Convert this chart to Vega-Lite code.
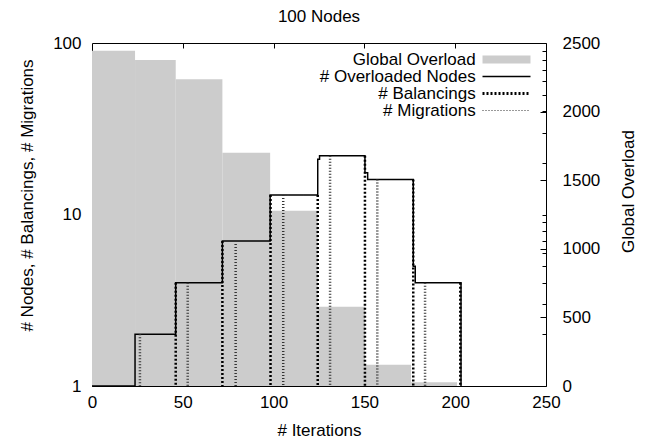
{
  "$schema": "https://vega.github.io/schema/vega-lite/v6.json",
  "width": 454,
  "height": 343,
  "autosize": {"type": "none"},
  "padding": {"left": 92, "top": 43, "right": 100, "bottom": 57},
  "background": "white",
  "title": {"text": "100 Nodes", "font": "Liberation Sans", "fontSize": 17, "fontWeight": "normal", "color": "black", "offset": 8},
  "datasets": {
    "overload": [
      {"start": 0, "end": 23.7, "overload": 2444},
      {"start": 23.7, "end": 46.1, "overload": 2376},
      {"start": 46.1, "end": 71.8, "overload": 2235},
      {"start": 71.8, "end": 98.1, "overload": 1700},
      {"start": 98.1, "end": 124.3, "overload": 1278},
      {"start": 124.3, "end": 150.3, "overload": 578},
      {"start": 150.3, "end": 175.7, "overload": 155},
      {"start": 175.7, "end": 201, "overload": 27}
    ],
    "nodes": [
      {"iteration": 0, "value": 1, "series": "# Overloaded Nodes"},
      {"iteration": 23.7, "value": 2, "series": "# Overloaded Nodes"},
      {"iteration": 46.1, "value": 4, "series": "# Overloaded Nodes"},
      {"iteration": 71.8, "value": 7, "series": "# Overloaded Nodes"},
      {"iteration": 98.1, "value": 13, "series": "# Overloaded Nodes"},
      {"iteration": 124.3, "value": 21, "series": "# Overloaded Nodes"},
      {"iteration": 125.3, "value": 22, "series": "# Overloaded Nodes"},
      {"iteration": 150.3, "value": 17.5, "series": "# Overloaded Nodes"},
      {"iteration": 151.8, "value": 16, "series": "# Overloaded Nodes"},
      {"iteration": 176.9, "value": 5, "series": "# Overloaded Nodes"},
      {"iteration": 178, "value": 4, "series": "# Overloaded Nodes"},
      {"iteration": 203.2, "value": 1, "series": "# Overloaded Nodes"}
    ],
    "balancings": [
      {"iteration": 46.1, "value": 4, "series": "# Balancings"},
      {"iteration": 71.8, "value": 7, "series": "# Balancings"},
      {"iteration": 98.3, "value": 13, "series": "# Balancings"},
      {"iteration": 124.3, "value": 13, "series": "# Balancings"},
      {"iteration": 150.3, "value": 22, "series": "# Balancings"},
      {"iteration": 176.9, "value": 16, "series": "# Balancings"},
      {"iteration": 202.8, "value": 4, "series": "# Balancings"}
    ],
    "migrations": [
      {"iteration": 26.4, "value": 2, "series": "# Migrations"},
      {"iteration": 52.7, "value": 4, "series": "# Migrations"},
      {"iteration": 79.1, "value": 7, "series": "# Migrations"},
      {"iteration": 105.3, "value": 13, "series": "# Migrations"},
      {"iteration": 131.1, "value": 22, "series": "# Migrations"},
      {"iteration": 157.1, "value": 16, "series": "# Migrations"},
      {"iteration": 183.4, "value": 4, "series": "# Migrations"}
    ]
  },
  "config": {
    "view": {"stroke": null},
    "font": "Liberation Sans",
    "axis": {
      "labelFont": "Liberation Sans", "labelFontSize": 17, "labelColor": "black",
      "titleFont": "Liberation Sans", "titleFontSize": 17, "titleFontWeight": "normal", "titleColor": "black",
      "grid": false, "domainColor": "black", "domainWidth": 1, "tickColor": "black", "tickWidth": 1,
      "labelFlush": false, "labelOverlap": false, "zindex": 1
    },
    "legend": {
      "orient": "none", "legendX": 406, "legendY": 8, "padding": 0,
      "symbolType": "M-6,0H6", "symbolSize": 64,
      "labelAlign": "right", "labelOffset": -39.3, "labelBaseline": "middle",
      "labelFont": "Liberation Sans", "labelFontSize": 17, "labelColor": "black",
      "rowPadding": -2.3
    }
  },
  "resolve": {"scale": {"y": "independent"}, "axis": {"x": "independent", "y": "independent"}},
  "layer": [
    {
      "data": {"name": "overload"},
      "mark": {"type": "rect", "color": "#cccccc"},
      "encoding": {
        "x": {"field": "start", "type": "quantitative", "scale": {"domain": [0, 250], "nice": false, "zero": true},
          "axis": {"orient": "bottom", "values": [0, 50, 100, 150, 200, 250], "ticks": false, "labelPadding": 8, "title": "# Iterations", "titlePadding": 12, "domain": true}},
        "x2": {"field": "end"},
        "y": {"field": "overload", "type": "quantitative", "scale": {"domain": [0, 2500], "nice": false},
          "axis": {"orient": "right", "values": [0, 500, 1000, 1500, 2000, 2500], "format": "d", "tickSize": -6, "labelPadding": 22, "domain": true,
            "title": "Global Overload", "titleAngle": 270, "titleX": 82, "titleY": 148, "titleBaseline": "middle", "titleAlign": "center"}},
        "y2": {"datum": 0}
      }
    },
    {
      "layer": [
        {
          "data": {"name": "nodes"},
          "mark": {"type": "line", "interpolate": "step-after", "strokeCap": "butt"},
          "encoding": {
            "x": {"field": "iteration", "type": "quantitative", "axis": null},
            "y": {"field": "value", "type": "quantitative", "scale": {"type": "log", "domain": [1, 100], "nice": false},
              "axis": {"orient": "left", "values": [1, 10, 100], "format": "d", "ticks": false, "labelPadding": 11, "domain": true,
                "title": "# Nodes, # Balancings, # Migrations", "titleAngle": 270, "titleX": -65, "titleY": 152, "titleBaseline": "middle", "titleAlign": "center"}},
            "color": {"field": "series", "type": "nominal",
              "scale": {"domain": ["Global Overload", "# Overloaded Nodes", "# Balancings", "# Migrations"], "range": ["#cccccc", "black", "black", "#333333"]},
              "legend": {"title": null, "encode": {"symbols": {"update": {
                "strokeJoin": {"value": "round"},
                "strokeCap": {"value": "butt"},
                "strokeDash": {"signal": "datum.value === '# Balancings' ? [2, 2] : datum.value === '# Migrations' ? [1, 2] : [1, 0]"},
                "strokeWidth": {"signal": "datum.value === 'Global Overload' ? 8 : datum.value === '# Balancings' ? 3 : datum.value === '# Overloaded Nodes' ? 1.5 : 1"}
              }}}}},
            "strokeDash": {"field": "series", "type": "nominal", "scale": {"domain": ["Global Overload", "# Overloaded Nodes", "# Balancings", "# Migrations"], "range": [[1, 0], [1, 0], [2, 2], [1, 2]]}, "legend": null},
            "strokeWidth": {"field": "series", "type": "ordinal", "scale": {"type": "ordinal", "domain": ["Global Overload", "# Overloaded Nodes", "# Balancings", "# Migrations"], "range": [8, 1.5, 3, 1]}, "legend": null}
          }
        },
        {
          "data": {"name": "balancings"},
          "mark": {"type": "rule", "strokeCap": "butt"},
          "encoding": {
            "x": {"field": "iteration", "type": "quantitative", "axis": null},
            "y": {"field": "value", "type": "quantitative"},
            "y2": {"datum": 1},
            "color": {"field": "series", "type": "nominal"},
            "strokeDash": {"field": "series", "type": "nominal", "legend": null},
            "strokeWidth": {"field": "series", "type": "ordinal", "legend": null}
          }
        },
        {
          "data": {"name": "migrations"},
          "mark": {"type": "rule", "strokeCap": "butt"},
          "encoding": {
            "x": {"field": "iteration", "type": "quantitative", "axis": null},
            "y": {"field": "value", "type": "quantitative"},
            "y2": {"datum": 1},
            "color": {"field": "series", "type": "nominal"},
            "strokeDash": {"field": "series", "type": "nominal", "legend": null},
            "strokeWidth": {"field": "series", "type": "ordinal", "legend": null}
          }
        }
      ]
    },
    {
      "data": {"name": "migrations"},
      "mark": {"type": "point", "opacity": 0},
      "encoding": {
        "x": {"field": "iteration", "type": "quantitative",
          "axis": {"orient": "top", "values": [50, 100, 150, 200], "labels": false, "tickSize": -5, "domain": true, "title": null}},
        "y": {"field": "value", "type": "quantitative", "scale": {"type": "log", "domain": [1, 100], "nice": false},
          "axis": {"orient": "right", "values": [2, 3, 4, 5, 6, 7, 8, 9, 10, 20, 30, 40, 50, 60, 70, 80, 90], "labels": false, "tickSize": -4, "domain": false, "title": null}}
      }
    }
  ]
}
